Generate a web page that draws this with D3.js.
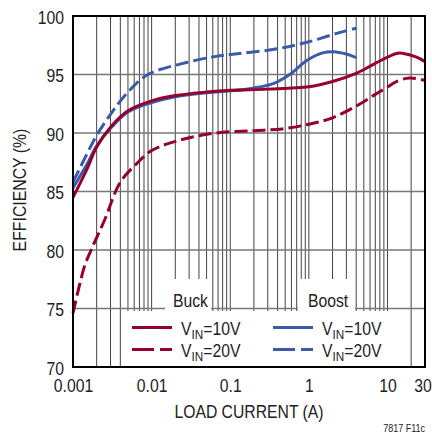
<!DOCTYPE html>
<html><head><meta charset="utf-8">
<script src="https://cdn.jsdelivr.net/npm/d3@7"></script>
<style>
html,body{margin:0;padding:0;background:#fff;}
svg{display:block;font-family:"Liberation Sans",Arial,sans-serif;}
</style></head>
<body><svg id="c" width="432" height="434"></svg>
<script>
// Data
const buck10_I = [0.001,0.0015,0.002,0.003,0.005,0.01,0.02,0.05,0.1,0.3,1,2,4,7,13,16,23,30];
const buck10_E = [84.5,86.9,88.8,90.5,91.9,92.75,93.2,93.5,93.65,93.75,93.95,94.4,95.1,95.95,96.8,96.8,96.5,96.1];
const buck20_I = [0.001,0.0014,0.0017,0.0025,0.004,0.0065,0.01,0.023,0.066,0.2,0.46,1,2,4,7,11,13,19,30];
const buck20_E = [74.6,78.6,80.0,82.5,85.8,87.4,88.5,89.4,90.0,90.2,90.35,90.75,91.3,92.3,93.3,94.1,94.4,94.7,94.5];
const boost10_I = [0.001,0.0015,0.002,0.003,0.005,0.01,0.02,0.05,0.1,0.2,0.36,0.57,0.94,1.5,2.05,3,4];
const boost10_E = [85.3,87.3,88.9,90.4,91.8,92.6,93.1,93.45,93.6,93.85,94.25,95.0,96.2,96.85,96.95,96.75,96.45];
const boost20_I = [0.001,0.0015,0.002,0.003,0.005,0.009,0.025,0.066,0.13,0.36,0.94,2.5,4];
const boost20_E = [85.8,88.2,89.8,91.6,93.5,95.0,95.95,96.55,96.8,97.15,97.75,98.6,98.95];
const yTicks = [70,75,80,85,90,95,100];
const xTickLabels = [0.001,0.01,0.1,1,10,30];
const legendLabels = ["=10V","=20V"];

const svg = d3.select("#c");
const L=73,R=425,T=16,B=367;
const x = d3.scaleLog().domain([0.001,30]).range([L,R]);
const y = d3.scaleLinear().domain([70,100]).range([B,T]);
const RED="#96002f", BLUE="#3a5aaa";

// vertical grid
const vgrid=[];
for(let k=-3;k<=1;k++) for(let m=1;m<=9;m++){const v=m*Math.pow(10,k); if(v>0.0010001 && v<29.9) vgrid.push(+v.toPrecision(3));}
svg.append("g").selectAll("line").data(vgrid).join("line")
  .attr("x1",d=>x(d)).attr("x2",d=>x(d)).attr("y1",T).attr("y2",B)
  .attr("stroke","#444").attr("stroke-width",1);
// horizontal grid
svg.append("g").selectAll("line").data(yTicks.filter(d=>d>70&&d<100)).join("line")
  .attr("x1",L).attr("x2",R).attr("y1",d=>y(d)).attr("y2",d=>y(d))
  .attr("stroke","#777").attr("stroke-width",1.5);

// legend white areas
svg.append("rect").attr("x",124).attr("y",311).attr("width",280).attr("height",55).attr("fill","#fff");
svg.append("rect").attr("x",165).attr("y",279).attr("width",46).attr("height",32).attr("fill","#fff");
svg.append("rect").attr("x",298).attr("y",279).attr("width",57).attr("height",32).attr("fill","#fff");

// curves
const line = d3.line().x(d=>x(d[0])).y(d=>y(d[1])).curve(d3.curveCatmullRom.alpha(0.5));
function draw(I,E,color,dash){
  svg.append("path").datum(I.map((v,i)=>[v,E[i]])).attr("d",line)
   .attr("fill","none").attr("stroke",color).attr("stroke-width",3)
   .attr("stroke-dasharray",dash||null);
}
draw(boost10_I,boost10_E,BLUE);
draw(boost20_I,boost20_E,BLUE,"13,5");
draw(buck10_I,buck10_E,RED);
draw(buck20_I,buck20_E,RED,"13,5");

// frame
svg.append("rect").attr("x",L).attr("y",T).attr("width",R-L).attr("height",B-T)
  .attr("fill","none").attr("stroke","#000").attr("stroke-width",2);

// axes
const fs=17.5;
const ax = svg.append("g").attr("transform",`translate(${L},0)`)
  .call(d3.axisLeft(y).tickValues(yTicks).tickSize(0).tickPadding(10).tickFormat(d3.format("d")));
ax.select(".domain").remove();
ax.selectAll("text").attr("font-size",fs).attr("font-family","Liberation Sans, Arial, sans-serif")
  .attr("fill","#222").attr("transform","scale(0.9,1)").attr("dy","0.4em");
const bx = svg.append("g").attr("transform",`translate(0,${B})`)
  .call(d3.axisBottom(x).tickValues(xTickLabels).tickSize(0).tickPadding(13).tickFormat(d=>String(d)));
bx.select(".domain").remove();
bx.selectAll("text").attr("font-size",fs).attr("font-family","Liberation Sans, Arial, sans-serif")
  .attr("fill","#222").attr("transform","scale(0.9,1)");
bx.selectAll(".tick").filter(d=>d===30).select("text").attr("text-anchor","end").attr("x",7);

// titles
svg.append("text").attr("transform","translate(26,190) rotate(-90) scale(0.88,1)")
  .attr("text-anchor","middle").attr("font-size",18).attr("fill","#222").text("EFFICIENCY (%)");
svg.append("text").attr("transform","translate(249,418) scale(0.9,1)")
  .attr("text-anchor","middle").attr("font-size",fs).attr("fill","#222").text("LOAD CURRENT (A)");
svg.append("text").attr("transform","translate(425,432) scale(0.9,1)")
  .attr("text-anchor","end").attr("font-size",10).attr("fill","#222").text("7817 F11c");

// legend
svg.append("text").attr("transform","translate(173,307) scale(0.9,1)").attr("font-size",fs).attr("fill","#222").text("Buck");
svg.append("text").attr("transform","translate(308,307) scale(0.9,1)").attr("font-size",fs).attr("fill","#222").text("Boost");
const legRows=[{c:RED,x:132,dash:null,y:327.5,t:legendLabels[0]},{c:RED,x:132,dash:"22,6,12",y:349.5,t:legendLabels[1]},
               {c:BLUE,x:273,dash:null,y:327.5,t:legendLabels[0]},{c:BLUE,x:273,dash:"22,6,12",y:349.5,t:legendLabels[1]}];
legRows.forEach(r=>{
  svg.append("line").attr("x1",r.x).attr("x2",r.x+40).attr("y1",r.y).attr("y2",r.y)
    .attr("stroke",r.c).attr("stroke-width",3).attr("stroke-dasharray",r.dash);
  const t=svg.append("text").attr("transform",`translate(${r.x+49},${r.y+7.5}) scale(0.9,1)`).attr("font-size",fs).attr("fill","#222");
  t.append("tspan").text("V");
  t.append("tspan").attr("font-size",13).attr("dy",4).text("IN");
  t.append("tspan").attr("dy",-4).text(r.t);
});
</script></body></html>
